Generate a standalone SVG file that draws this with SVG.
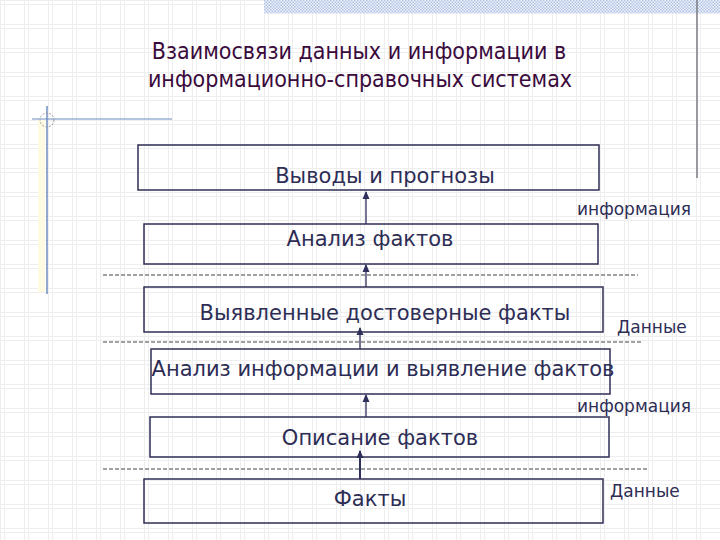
<svg xmlns="http://www.w3.org/2000/svg" width="720" height="540" viewBox="0 0 720 540">
<defs>
<pattern id="grid" width="24" height="24" patternUnits="userSpaceOnUse">
<path d="M0.5 0V24M4.5 0V24" stroke="#eeeeee" stroke-width="1" fill="none"/>
<path d="M0 0.5H24M0 4.5H24" stroke="#eeeeee" stroke-width="1" fill="none"/>
</pattern>
<pattern id="hatch" width="3" height="3" patternUnits="userSpaceOnUse">
<rect width="3" height="3" fill="#eef2fb"/>
<rect width="1.5" height="1.5" fill="#b4c4e6"/>
<rect x="1.5" y="1.5" width="1.5" height="1.5" fill="#b4c4e6"/>
</pattern>
<marker id="ah" viewBox="0 0 8 8" refX="7" refY="4" markerWidth="8" markerHeight="8" markerUnits="userSpaceOnUse" orient="auto">
<path d="M0 0.5L8 4L0 7.5Z" fill="#2f2f5c"/>
</marker>
<style>
.box{fill:none;stroke:#2f2f55;stroke-width:1.5}
.t{font-family:"DejaVu Sans","Verdana",sans-serif;font-size:21px;fill:#2d2d55;text-anchor:middle}
.lbl{font-family:"DejaVu Sans","Verdana",sans-serif;font-size:17px;fill:#2d2d55}
.title{font-family:"DejaVu Sans Condensed","DejaVu Sans",sans-serif;font-size:23px;fill:#3a0a3c;text-anchor:middle}
.dash{stroke:#444;stroke-width:1;stroke-dasharray:4 2;fill:none}
.arr{stroke:#2f2f5c;stroke-width:1.3;fill:none;marker-end:url(#ah)}
</style>
</defs>
<rect width="720" height="540" fill="#ffffff"/>
<rect width="720" height="540" fill="url(#grid)"/>
<rect x="264" y="0" width="456" height="13" fill="url(#hatch)"/>
<line x1="264" y1="13" x2="720" y2="13" stroke="#d8dcf4" stroke-width="1"/>
<line x1="697" y1="0" x2="697" y2="178" stroke="#7a7a80" stroke-width="1.5"/>
<rect x="38" y="120" width="7" height="172" fill="#fffbe2"/>
<line x1="32" y1="119" x2="172" y2="119" stroke="#6f8cc0" stroke-width="1"/>
<line x1="47" y1="106" x2="47" y2="294" stroke="#6f8cc0" stroke-width="1.5"/>
<circle cx="47" cy="120" r="7" fill="none" stroke="#9a9aa8" stroke-width="1" stroke-dasharray="2 1.5"/>
<text class="title" x="359" y="59">Взаимосвязи данных и информации в</text>
<text class="title" x="360" y="87">информационно-справочных системах</text>
<g id="connectors">
<line class="dash" x1="103" y1="275" x2="638" y2="275"/>
<line class="dash" x1="103" y1="342" x2="642" y2="342"/>
<line class="dash" x1="103" y1="469" x2="648" y2="469"/>
<line class="arr" x1="366" y1="224" x2="366" y2="192"/>
<line class="arr" x1="366" y1="287" x2="366" y2="265"/>
<line class="arr" x1="360" y1="349" x2="360" y2="328"/>
<line class="arr" x1="366" y1="417" x2="366" y2="395"/>
<line class="arr" x1="360" y1="479" x2="360" y2="451" style="stroke-width:2"/>
</g>
<g id="n1"><rect class="box" x="138" y="145" width="461" height="45"/><text class="t" x="385" y="183">Выводы и прогнозы</text></g>
<g id="n2"><rect class="box" x="144" y="224" width="454" height="40"/><text class="t" x="370" y="246">Анализ фактов</text></g>
<g id="n3"><rect class="box" x="144" y="287" width="459" height="45"/><text class="t" x="385" y="320">Выявленные достоверные факты</text></g>
<g id="n4"><rect class="box" x="151" y="349" width="459" height="45"/><text class="t" x="383" y="376">Анализ информации и выявление фактов</text></g>
<g id="n5"><rect class="box" x="150" y="417" width="459" height="40"/><text class="t" x="380" y="445">Описание фактов</text></g>
<g id="n6"><rect class="box" x="144" y="479" width="459" height="44"/><text class="t" x="370" y="506">Факты</text></g>
<g id="labels">
<text class="lbl" x="577" y="215">информация</text>
<text class="lbl" x="617" y="333">Данные</text>
<text class="lbl" x="577" y="412">информация</text>
<text class="lbl" x="610" y="497">Данные</text>
</g>
</svg>
